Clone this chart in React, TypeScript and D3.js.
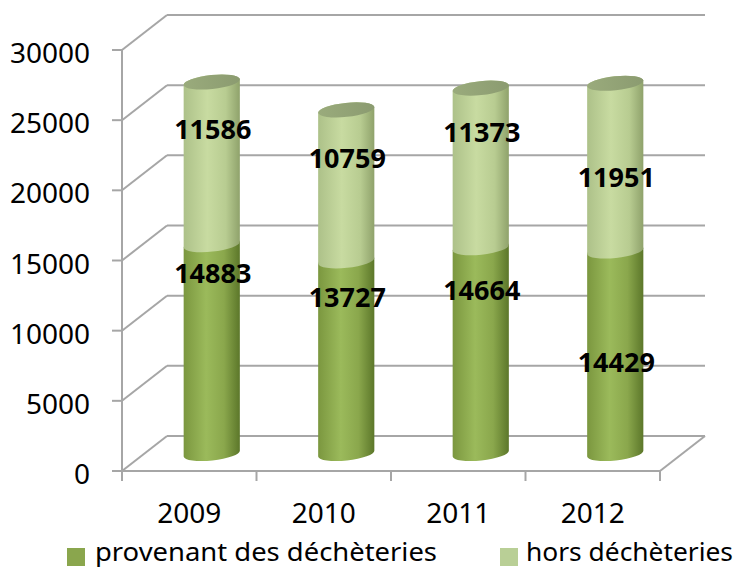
import * as d3 from 'd3';

const years = ['2009', '2010', '2011', '2012'];
const fromDecheteries = [14883, 13727, 14664, 14429];
const horsDecheteries = [11586, 10759, 11373, 11951];
const yTicks = [0, 5000, 10000, 15000, 20000, 25000, 30000];
// where Excel put each data label, in axis units
const lowerLabelAt = [12863, 11152, 11651, 6520];
const upperLabelAt = [23130, 21063, 22916, 19709];
const seriesNames = ['provenant des déchèteries', 'hors déchèteries'];

const W = 743;
const H = 569;
const font = "'Noto Sans', 'Open Sans', sans-serif";

export default function App() {
	const x = d3.scaleBand().domain(years).range([122, 660]).padding(0);
	const y = d3.scaleLinear().domain([0, 30000]).range([471, 50]);
	const depth = {dx: 45, dy: -35};
	const r = x.bandwidth() * 0.21;
	const ry = 7;
	const tilt = -6;
	const rad = (tilt * Math.PI) / 180;
	const ex = r * Math.cos(rad);
	const ey = r * Math.sin(rad);
	const grid = '#a6a6a6';

	const cx = (yr: string) => x(yr)! + x.bandwidth() / 2 + depth.dx / 2;
	const cy = (v: number) => y(v) + depth.dy / 2;

	const body = (c: number, v0: number, v1: number) => {
		const yT = cy(v1);
		const yB = cy(v0);
		return (
			`M${c - ex},${yT - ey} L${c - ex},${yB - ey} ` +
			`A${r},${ry} ${tilt} 0 0 ${c + ex},${yB + ey} ` +
			`L${c + ex},${yT + ey} A${r},${ry} ${tilt} 0 0 ${c - ex},${yT - ey} Z`
		);
	};

	const stacks = years.map((yr, i) => ({
		yr,
		c: cx(yr),
		a: fromDecheteries[i],
		b: fromDecheteries[i] + horsDecheteries[i],
	}));

	return (
		<svg
			width={W}
			height={H}
			style={{position: 'absolute', left: 0, top: 0, background: '#fff'}}
			fontFamily={font}
		>
			<defs>
				<linearGradient id="dark" x1="0" x2="1" y1="0" y2="0">
					<stop offset="0" stopColor="#7b973f" />
					<stop offset="0.4" stopColor="#9bba5b" />
					<stop offset="0.72" stopColor="#8aa74c" />
					<stop offset="1" stopColor="#5c772a" />
				</linearGradient>
				<linearGradient id="light" x1="0" x2="1" y1="0" y2="0">
					<stop offset="0" stopColor="#adc189" />
					<stop offset="0.42" stopColor="#c8dba1" />
					<stop offset="0.75" stopColor="#b8cc91" />
					<stop offset="1" stopColor="#8fa26b" />
				</linearGradient>
				<linearGradient id="cap" x1="0" x2="1" y1="0" y2="0">
					<stop offset="0" stopColor="#9aab7c" />
					<stop offset="1" stopColor="#8b9b70" />
				</linearGradient>
			</defs>

			{/* back wall gridlines + side wall diagonals */}
			<g stroke={grid} strokeWidth={2} fill="none">
				{yTicks.map((t) => (
					<g key={t}>
						<line x1={122 + depth.dx} x2={660 + depth.dx} y1={y(t) + depth.dy} y2={y(t) + depth.dy} />
						<line x1={122} x2={122 + depth.dx} y1={y(t)} y2={y(t) + depth.dy} />
						<line x1={112} x2={122} y1={y(t)} y2={y(t)} />
					</g>
				))}
				<line x1={660} x2={660 + depth.dx} y1={y(0)} y2={y(0) + depth.dy} />
				<line x1={122} x2={660} y1={y(0)} y2={y(0)} />
				<line x1={122} x2={122} y1={y(30000)} y2={y(0) + 10} />
				{[...years.map((yr) => x(yr)!), 660].map((px, i) => (
					<line key={i} x1={px} x2={px} y1={y(0)} y2={y(0) + 10} />
				))}
			</g>

			{/* cylinders */}
			{stacks.map((s) => (
				<g key={s.yr}>
					<path d={body(s.c, 0, s.a)} fill="url(#dark)" />
					<path d={body(s.c, s.a, s.b)} fill="url(#light)" />
					<ellipse
						cx={s.c}
						cy={cy(s.b)}
						rx={r}
						ry={ry}
						transform={`rotate(${tilt},${s.c},${cy(s.b)})`}
						fill="url(#cap)"
					/>
				</g>
			))}

			{/* data labels */}
			<g fontWeight="bold" fontSize={27} textAnchor="middle" fill="#000">
				{stacks.map((s, i) => (
					<g key={s.yr}>
						<text x={s.c + 1} y={cy(lowerLabelAt[i])} dy="0.36em">
							{fromDecheteries[i]}
						</text>
						<text x={s.c + 1} y={cy(upperLabelAt[i])} dy="0.36em">
							{horsDecheteries[i]}
						</text>
					</g>
				))}
			</g>

			{/* y axis labels */}
			<g fontSize={28} textAnchor="end" fill="#000">
				{yTicks.map((t) => (
					<text key={t} x={90} y={y(t) + 13}>
						{t}
					</text>
				))}
			</g>

			{/* x axis labels */}
			<g fontSize={28} textAnchor="middle" fill="#000">
				{years.map((yr) => (
					<text key={yr} x={x(yr)! + x.bandwidth() / 2} y={y(0) + 52}>
						{yr}
					</text>
				))}
			</g>

			{/* legend */}
			<g fontSize={26} fill="#000">
				<rect x={67} y={548} width={18} height={18} fill="#8aa64d" />
				<text x={95} y={561} textLength={342} lengthAdjust="spacingAndGlyphs">
					{seriesNames[0]}
				</text>
				<rect x={500} y={548} width={18} height={18} fill="#b9cf96" />
				<text x={526} y={561} textLength={207} lengthAdjust="spacingAndGlyphs">
					{seriesNames[1]}
				</text>
			</g>
		</svg>
	);
}
